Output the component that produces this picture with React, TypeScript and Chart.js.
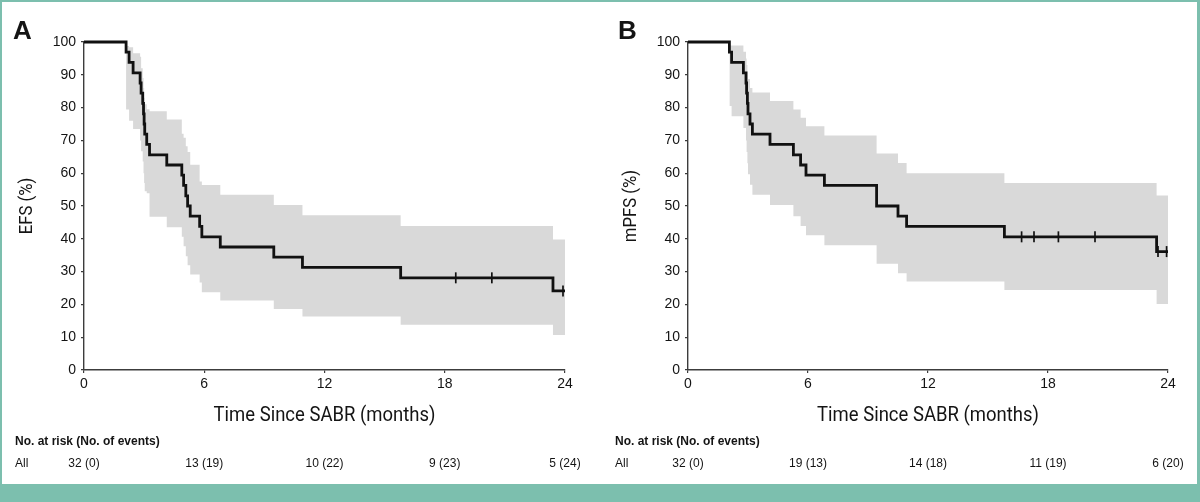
import { useEffect, useRef } from "react"
import { Chart, registerables } from "chart.js"

Chart.register(...registerables)

// months shown on the x axis and in the at-risk table
const tickMonths = [0, 6, 12, 18, 24]

// Panel A: event-free survival (Kaplan-Meier steps, value holds from each time on)
const efsTimes = [0, 2.1, 2.25, 2.45, 2.8, 2.85, 2.93, 2.97, 3.0, 3.03, 3.13, 3.27, 4.13, 4.88, 4.97, 5.08, 5.17, 5.3, 5.77, 5.88, 6.8, 9.47, 10.9, 15.8, 23.4, 24]
const efsSurv = [100, 96.9, 93.8, 90.6, 87.5, 84.4, 81.3, 78.1, 75, 71.9, 68.8, 65.6, 62.5, 59.4, 56.3, 53.1, 50, 46.9, 43.8, 40.6, 37.5, 34.4, 31.3, 28.1, 24.1, 24.1]
// confidence band, starts at the first event (efsTimes from index 1)
const efsUpper = [98.8, 98.4, 96.6, 95.5, 92, 89, 86, 83, 81, 79.5, 78.9, 76.4, 72, 70.8, 68.2, 66.5, 62.6, 57.5, 56.4, 53.4, 50.3, 47.2, 43.9, 39.8, 39.8]
const efsLower = [79.4, 76, 73.5, 70, 66.7, 63.6, 60, 57, 54.5, 53.9, 46.7, 43.5, 40.6, 37.7, 34.7, 31.9, 29.1, 26.7, 23.7, 21.2, 18.6, 16.3, 13.8, 10.7, 10.7]
const efsCensorT = [18.55, 20.35, 23.9]
const efsCensorS = [28.1, 28.1, 24.1]
const efsRisk = ["32 (0)", "13 (19)", "10 (22)", "9 (23)", "5 (24)"]

// Panel B: metastasis-free survival
const mpfsTimes = [0, 2.07, 2.18, 2.77, 2.9, 2.93, 2.97, 3.0, 3.1, 3.22, 4.1, 5.27, 5.63, 5.9, 6.82, 9.43, 10.5, 10.93, 15.82, 23.43, 24]
const mpfsSurv = [100, 96.9, 93.8, 90.6, 87.5, 84.4, 81.3, 78.1, 75, 71.9, 68.8, 65.6, 62.5, 59.4, 56.3, 50, 46.9, 43.8, 40.6, 36.1, 36.1]
const mpfsUpper = [98.9, 98.9, 97, 95, 93, 91, 88.7, 86, 84.6, 82, 79.4, 76.9, 74.3, 71.5, 66, 63.1, 60, 57, 53.2, 53.2]
const mpfsLower = [80.5, 77.4, 73.8, 70, 66.5, 63, 59.7, 56.5, 53.4, 50.3, 46.9, 43.9, 41.1, 38, 32.4, 29.5, 27, 24.4, 20.1, 20.1]
const mpfsCensorT = [16.68, 17.3, 18.52, 20.35, 23.5, 23.93]
const mpfsCensorS = [40.6, 40.6, 40.6, 40.6, 36.1, 36.1]
const mpfsRisk = ["32 (0)", "19 (13)", "14 (18)", "11 (19)", "6 (20)"]

const X_TITLE = "Time Since SABR (months)"

const TEAL = "#7cbfae"
const BAND = "#d9d9d9"
const AXIS = "#3c3c3c"
const TEXT = "#141414"
const SANS = "'Liberation Sans', Arial, sans-serif"
const TITLE_FONT = "Roboto, 'Liberation Sans', sans-serif"

// panel letter, condensed axis titles and the at-risk table
const annotations = {
  id: "annotations",
  afterDraw(chart: any, _args: any, opts: any) {
    const { ctx, chartArea } = chart
    const x = chart.scales.x
    ctx.save()
    ctx.fillStyle = TEXT
    ctx.textBaseline = "alphabetic"
    ctx.textAlign = "left"
    ctx.font = `bold 26px ${SANS}`
    ctx.fillText(opts.letter, opts.letterX, 39)

    // axis titles, squeezed horizontally like a condensed face
    ctx.textAlign = "center"
    ctx.textBaseline = "middle"
    ctx.font = `21px ${TITLE_FONT}`
    ctx.save()
    ctx.translate((chartArea.left + chartArea.right) / 2, 416)
    ctx.scale(0.88, 1)
    ctx.fillText(X_TITLE, 0, 0)
    ctx.restore()

    ctx.font = `19px ${TITLE_FONT}`
    ctx.save()
    ctx.translate(opts.yTitleX, (chartArea.top + chartArea.bottom) / 2)
    ctx.rotate(-Math.PI / 2)
    ctx.scale(0.88, 1)
    ctx.fillText(opts.yTitle, 0, 0)
    ctx.restore()

    ctx.textAlign = "left"
    ctx.font = `bold 12px ${SANS}`
    ctx.fillText("No. at risk (No. of events)", 15, 442)
    ctx.font = `12px ${SANS}`
    ctx.fillText("All", 15, 464)
    ctx.textAlign = "center"
    opts.risk.forEach((r: string, i: number) => {
      ctx.fillText(r, x.getPixelForValue(tickMonths[i]), 464)
    })
    ctx.restore()
  },
}

interface PanelProps {
  left: number
  letter: string
  letterX: number
  yTitle: string
  yTitleX: number
  axisWidth: number
  padRight: number
  times: number[]
  surv: number[]
  upper: number[]
  lower: number[]
  censorT: number[]
  censorS: number[]
  risk: string[]
}

function KmPanel(p: PanelProps) {
  const canvasRef = useRef<HTMLCanvasElement>(null)

  useEffect(() => {
    if (!canvasRef.current) return
    const bandTimes = p.times.slice(1)
    const curve = p.times.map((t, i) => ({ x: t, y: p.surv[i] }))
    const up = bandTimes.map((t, i) => ({ x: t, y: p.upper[i] }))
    const lo = bandTimes.map((t, i) => ({ x: t, y: p.lower[i] }))
    const cens = p.censorT.map((t, i) => ({ x: t, y: p.censorS[i] }))

    const chart = new Chart(canvasRef.current, {
      type: "line",
      data: {
        datasets: [
          { data: up, stepped: true, borderWidth: 0, borderColor: "rgba(0,0,0,0)", pointRadius: 0, fill: false, order: 3 },
          { data: lo, stepped: true, borderWidth: 0, borderColor: "rgba(0,0,0,0)", pointRadius: 0, fill: "-1", backgroundColor: BAND, order: 2 },
          { data: curve, stepped: true, borderColor: "#111", borderWidth: 2.8, pointRadius: 0, fill: false, order: 1, clip: false as any },
          {
            data: cens,
            showLine: false,
            pointStyle: "line",
            pointRotation: 90,
            pointRadius: 5.5,
            pointBorderWidth: 1.7,
            pointBorderColor: "#111",
            order: 0,
            clip: false as any,
          },
        ],
      } as any,
      options: {
        responsive: false,
        animation: false,
        events: [],
        layout: { padding: { top: 42, bottom: 50, left: 0, right: p.padRight } },
        plugins: {
          legend: { display: false },
          tooltip: { enabled: false },
          annotations: { letter: p.letter, letterX: p.letterX, yTitle: p.yTitle, yTitleX: p.yTitleX, risk: p.risk },
        } as any,
        scales: {
          x: {
            type: "linear",
            min: 0,
            max: 24,
            ticks: { stepSize: 6, padding: 3, color: TEXT, font: { family: SANS, size: 14 } },
            grid: { drawOnChartArea: false, tickLength: 3, color: AXIS, lineWidth: 1.2 },
            border: { color: AXIS, width: 1.4 },
            afterFit: (s: any) => {
              s.height = 64
            },
          },
          y: {
            min: 0,
            max: 100,
            ticks: { stepSize: 10, padding: 5, color: TEXT, font: { family: SANS, size: 14 } },
            grid: { drawOnChartArea: false, tickLength: 3, color: AXIS, lineWidth: 1.2 },
            border: { color: AXIS, width: 1.4 },
            afterFit: (s: any) => {
              s.width = p.axisWidth
            },
          },
        },
      },
      plugins: [annotations],
    })

    return () => chart.destroy()
  }, [])

  return (
    <canvas
      ref={canvasRef}
      width={600}
      height={484}
      style={{ position: "absolute", left: p.left, top: 0, width: 600, height: 484 }}
    />
  )
}

export default function App() {
  return (
    <div style={{ position: "fixed", left: 0, top: 0, width: 1200, height: 502, background: "#fff", overflow: "hidden" }}>
      <div style={{ position: "absolute", left: 0, top: 0, width: 1200, height: 2, background: TEAL }} />
      <div style={{ position: "absolute", left: 0, top: 0, width: 2, height: 502, background: TEAL }} />
      <div style={{ position: "absolute", left: 1197, top: 0, width: 3, height: 502, background: TEAL }} />
      <div style={{ position: "absolute", left: 0, top: 484, width: 1200, height: 18, background: TEAL }} />
      <KmPanel
        left={0}
        letter="A"
        letterX={13}
        yTitle="EFS (%)"
        yTitleX={27}
        axisWidth={84}
        padRight={35}
        times={efsTimes}
        surv={efsSurv}
        upper={efsUpper}
        lower={efsLower}
        censorT={efsCensorT}
        censorS={efsCensorS}
        risk={efsRisk}
      />
      <KmPanel
        left={600}
        letter="B"
        letterX={18}
        yTitle="mPFS (%)"
        yTitleX={31}
        axisWidth={88}
        padRight={32}
        times={mpfsTimes}
        surv={mpfsSurv}
        upper={mpfsUpper}
        lower={mpfsLower}
        censorT={mpfsCensorT}
        censorS={mpfsCensorS}
        risk={mpfsRisk}
      />
    </div>
  )
}
